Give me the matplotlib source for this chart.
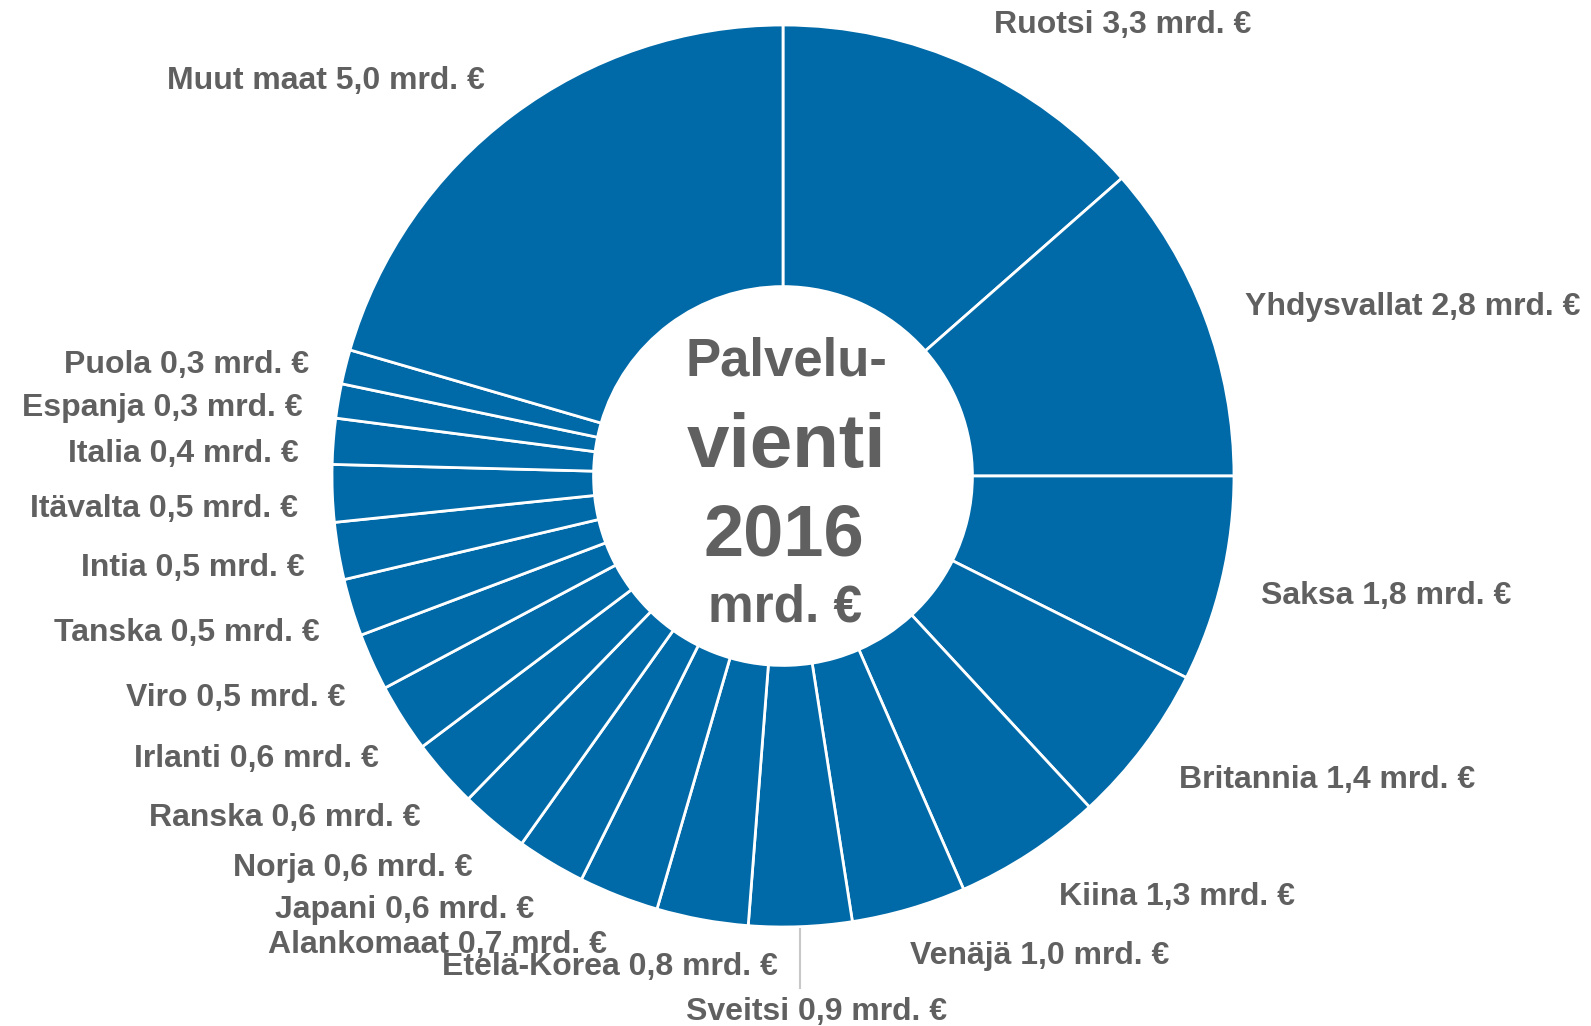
import matplotlib
matplotlib.use("Agg")
import matplotlib.pyplot as plt
import numpy as np

# data: service exports 2016 by country, bn €
countries = ["Ruotsi", "Yhdysvallat", "Saksa", "Britannia", "Kiina", "Venäjä",
             "Sveitsi", "Etelä-Korea", "Alankomaat", "Japani", "Norja", "Ranska",
             "Irlanti", "Viro", "Tanska", "Intia", "Itävalta", "Italia",
             "Espanja", "Puola", "Muut maat"]
values = [3.3, 2.8, 1.8, 1.4, 1.3, 1.0, 0.9, 0.8, 0.7, 0.6, 0.6, 0.6,
          0.6, 0.5, 0.5, 0.5, 0.5, 0.4, 0.3, 0.3, 5.0]

# label layout (pixel positions of label centres in the 1591x1026 image)
label_px = [(1123, 22), (1413, 304), (1386, 593), (1327, 777), (1177, 894),
            (1040, 953), (817, 1009), (610, 964), (437, 942), (405, 907),
            (353, 865), (285, 815), (256, 756), (236, 695), (187, 630),
            (193, 565), (164, 506), (183, 451), (162, 405), (187, 362),
            (326, 78)]

BLUE = "#006AA8"
GREY = "#606060"
W, H = 1591, 1026
CX, CY, R = 783, 476, 451   # pie centre and radius in pixels


def to_data(px, py):
    return (px - CX) / R, (CY - py) / R


fig = plt.figure(figsize=(W / 100, H / 100), dpi=100)
ax = fig.add_axes([0, 0, 1, 1])

wedges, _ = ax.pie(values, radius=1, startangle=90, counterclock=False,
                   colors=[BLUE] * len(values),
                   wedgeprops=dict(width=0.58, edgecolor="white", linewidth=2))

# pie() resets the limits, so set them afterwards
ax.set_xlim(-CX / R, (W - CX) / R)
ax.set_ylim((CY - H) / R, CY / R)
ax.axis("off")

label_font = dict(family=["Liberation Sans", "DejaVu Sans"],
                  weight="bold", color=GREY, fontsize=23)

for name, v, (px, py) in zip(countries, values, label_px):
    txt = f"{name} {v:.1f}".replace(".", ",") + " mrd. €"
    x, y = to_data(px, py + 11)
    ax.text(x, y, txt, ha="center", va="baseline", **label_font)

# leader line for Sveitsi
i = countries.index("Sveitsi")
w = wedges[i]
mid = np.deg2rad((w.theta1 + w.theta2) / 2)
x0, y0 = np.cos(mid), np.sin(mid)
ax.plot([x0, x0], [y0 - 0.005, to_data(0, 988)[1]], color="#C8C8C8", lw=1.5)

# centre title (baselines)
centre_font = dict(family=["Liberation Sans", "DejaVu Sans"], weight="bold",
                   color=GREY, ha="center", va="baseline")
ax.text(*to_data(786, 375), "Palvelu-", fontsize=38, **centre_font)
ax.text(*to_data(786, 467), "vienti", fontsize=55, **centre_font)
ax.text(*to_data(784, 555), "2016", fontsize=52, **centre_font)
ax.text(*to_data(785, 622), "mrd. €", fontsize=37, **centre_font)

plt.savefig("out.png", dpi=100)
